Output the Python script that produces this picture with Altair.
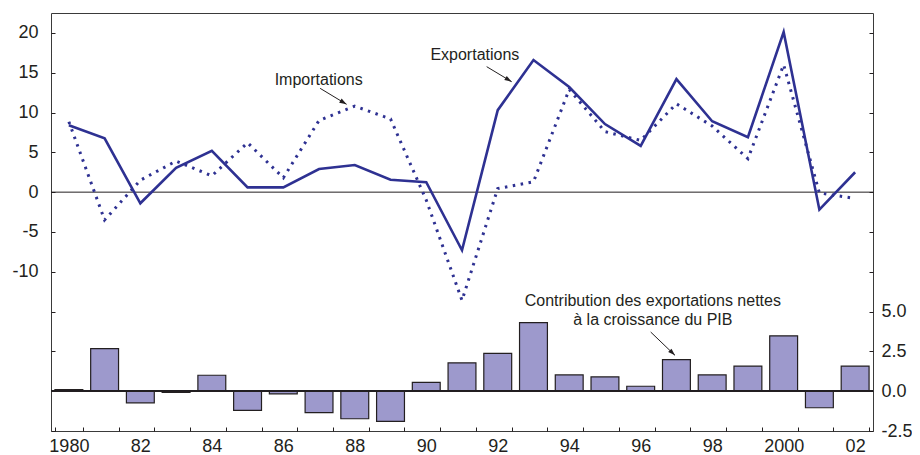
import altair as alt
import pandas as pd

years = list(range(1980, 2003))
exportations = [8.4, 6.75, -1.4, 3.05, 5.2, 0.6, 0.6, 2.9, 3.4, 1.55, 1.25, -7.3,
                10.3, 16.6, 13.2, 8.55, 5.8, 14.2, 8.9, 6.9, 20.1, -2.2, 2.5]
importations = [8.85, -3.5, 1.5, 3.9, 2.05, 6.2, 1.8, 9.0, 10.8, 9.2, -1.0, -13.6,
                0.45, 1.3, 12.9, 7.6, 6.5, 11.1, 8.3, 4.2, 16.0, -0.1, -0.8]
contribution = [0.1, 2.67, -0.73, -0.08, 1.0, -1.2, -0.17, -1.35, -1.73, -1.9, 0.55, 1.78,
                2.38, 4.3, 1.02, 0.9, 0.31, 1.98, 1.02, 1.58, 3.48, -1.04, 1.58]

left_ticks = [-30, -25, -20, -15, -10, -5, 0, 5, 10, 15, 20]
right_ticks = [-2.5, 0, 2.5, 5, 7.5, 10, 12.5, 15, 17.5, 20, 22.5]

# annotations (year-units, left-axis units)
ann_texts = ["Importations", "Exportations", "Contribution des exportations nettes", "à la croissance du PIB"]
ann_tx = [1986.99, 1991.36, 1996.34, 1996.34]
ann_ty = [14.09, 17.23, -13.67, -16.01]
arr_x1 = [1987.03, 1991.69, 1996.28]
arr_y1 = [13.04, 15.76, -17.57]
arr_x2 = [1987.77, 1992.39, 1996.96]
arr_y2 = [11.03, 13.87, -20.5]
arr_angle = [121, 121, 134]

df = pd.DataFrame({"year": years, "exp": exportations, "imp": importations, "contrib": contribution})
txt_df = pd.DataFrame({"t": ann_texts, "x": ann_tx, "y": ann_ty})
arr_df = pd.DataFrame({"x1": arr_x1, "y1": arr_y1, "x2": arr_x2, "y2": arr_y2, "ang": arr_angle})

INK = "#231f20"
LINE = "#2e3192"
BAR = "#9d99cc"
FONT = "Liberation Sans"

xscale = alt.Scale(paddingInner=0.22, paddingOuter=0.11)
LEFT_DOM = [-30, 22.5]
RIGHT_DOM = [-2.5, 23.75]

x_axis = alt.Axis(
    orient="bottom", values=years, tickBand="extent", labelAngle=0, labelOverlap=False,
    title=None, domain=False, tickSize=4, offset=-4, labelPadding=6,
    labelExpr="datum.value % 2 == 0 ? ((datum.value == 1980 || datum.value == 2000) ? ('' + datum.value) : substring('' + datum.value, 2, 4)) : ''",
)

# bars (right axis)
bars = alt.Chart(df).mark_bar(fill=BAR, stroke=INK, strokeWidth=1.2).encode(
    x=alt.X("year:O", scale=xscale, axis=x_axis),
    y=alt.Y("contrib:Q", scale=alt.Scale(domain=RIGHT_DOM, nice=False, zero=False),
            axis=alt.Axis(orient="right", values=right_ticks, title=None, domain=False,
                          tickSize=4, offset=-4, labelPadding=8,
                          labelExpr="datum.value <= 5 ? (datum.value == -2.5 ? '-2.5' : format(datum.value, '.1f')) : ''")),
)
bar_zero = alt.Chart(df).mark_rule(color=INK, strokeWidth=1).encode(y=alt.datum(0))
bars_group = alt.layer(bars, bar_zero)

left_axis = alt.Axis(orient="left", values=left_ticks, title=None, domain=False,
                     tickSize=4, offset=-4, labelPadding=13,
                     labelExpr="datum.value >= -10 ? ('' + datum.value) : ''")
lscale = alt.Scale(domain=LEFT_DOM, nice=False, zero=False)
x_noaxis = alt.X("year:O", scale=xscale, axis=None)

left_zero = alt.Chart(df).mark_rule(color=INK, strokeWidth=1).encode(
    y=alt.Y("z:Q", scale=lscale, axis=left_axis)
).transform_calculate(z="0").transform_filter("datum.year == 1980")
imp_line = alt.Chart(df).mark_line(color=LINE, strokeWidth=3, strokeDash=[2.5, 5.5], strokeCap="butt").encode(
    x=x_noaxis, y=alt.Y("imp:Q", scale=lscale, axis=left_axis)
)
exp_line = alt.Chart(df).mark_line(color=LINE, strokeWidth=2.6).encode(
    x=x_noaxis, y=alt.Y("exp:Q", scale=lscale, axis=left_axis)
)
lines_group = alt.layer(left_zero, imp_line, exp_line)

qx = alt.Scale(domain=[1979.5, 2002.5], nice=False, zero=False)
ann_text = alt.Chart(txt_df).mark_text(font=FONT, fontSize=16, color=INK, align="center", baseline="middle").encode(
    x=alt.X("x:Q", scale=qx, axis=None),
    y=alt.Y("y:Q", scale=lscale, axis=None),
    text="t:N",
)
ann_rule = alt.Chart(arr_df).mark_rule(color=INK, strokeWidth=1).encode(
    x=alt.X("x1:Q", scale=qx, axis=None), x2="x2:Q",
    y=alt.Y("y1:Q", scale=lscale, axis=None), y2="y2:Q",
)
ann_head = alt.Chart(arr_df).mark_point(
    shape="M0,0L-0.8,2.4L0.8,2.4Z", size=36, filled=True, color=INK, opacity=1
).encode(
    x=alt.X("x2:Q", scale=qx, axis=None),
    y=alt.Y("y2:Q", scale=lscale, axis=None),
    angle=alt.Angle("ang:Q", scale=None),
)
ann_group = alt.layer(ann_text, ann_rule, ann_head)

chart = alt.layer(bars_group, lines_group, ann_group).resolve_scale(
    x="independent", y="independent"
).properties(
    width=822, height=418,
    autosize=alt.AutoSizeParams(type="none"),
    padding={"left": 43, "top": 5, "right": 39, "bottom": 24},
).configure_view(stroke="#3a3a3a", strokeWidth=1).configure_axis(
    grid=False, labelFont=FONT, labelFontSize=18, labelColor=INK, tickColor=INK, tickWidth=1
)

chart.save("out.html", embed_options={"renderer": "svg", "actions": False})
